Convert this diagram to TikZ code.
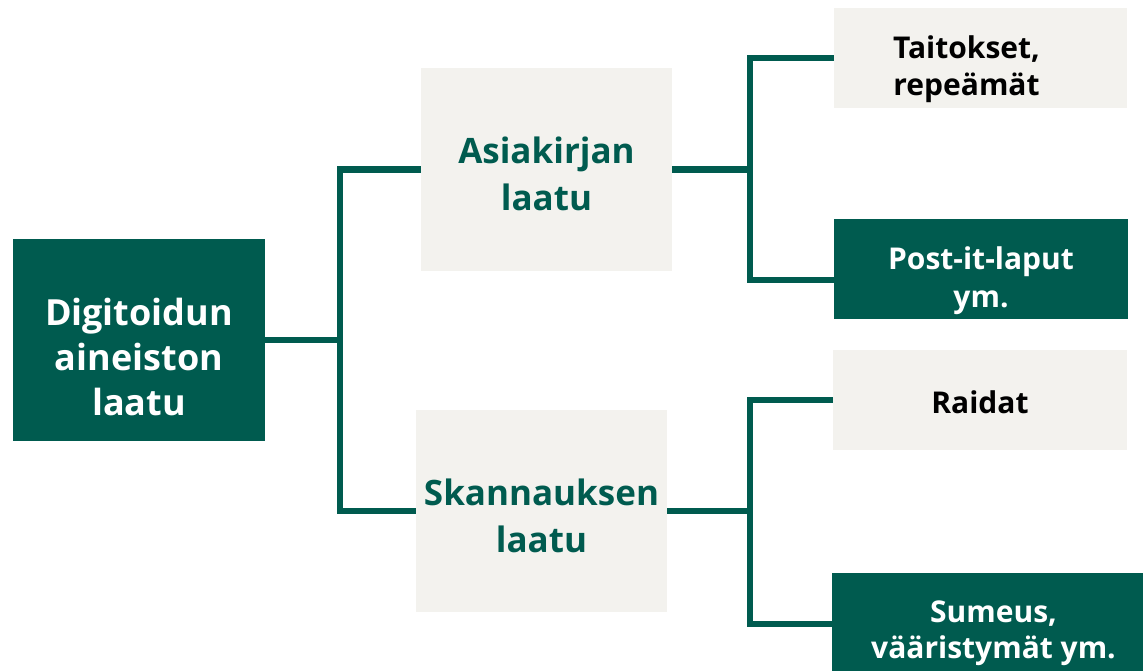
\documentclass[tikz,border=0pt]{standalone}
\usepackage{fontspec}
\setmainfont{Open Sans}
\usetikzlibrary{calc}
\definecolor{dgreen}{HTML}{005B4F}
\definecolor{lgray}{HTML}{F3F2EE}
\tikzset{
  darkbox/.style={fill=dgreen, text=white, inner sep=0pt},
  lightbox/.style={fill=lgray, inner sep=0pt},
  conn/.style={draw=dgreen, line width=6.5pt, line join=miter},
  rootfont/.style={font=\fontsize{36}{45}\selectfont\bfseries},
  big/.style={font=\fontsize{35}{46.5}\selectfont\bfseries},
  small/.style={font=\fontsize{30}{37.5}\selectfont\bfseries}
}
\begin{document}
\begin{tikzpicture}[x=1pt,y=-1pt]
\useasboundingbox (0,0) rectangle (1143,670);
\node[darkbox, rootfont, align=center, minimum width=252pt, minimum height=202pt, text height=150pt, text depth=0pt] (root) at (139,340) {Digitoidun\\aineiston\\laatu};
\node[lightbox, big, align=center, text=dgreen, minimum width=251pt, minimum height=203pt, text height=81pt, text depth=0pt] (asia) at (546.5,169.5) {Asiakirjan\\laatu};
\node[lightbox, big, align=center, text=dgreen, minimum width=251pt, minimum height=202pt, text height=82pt, text depth=0pt] (skann) at (541.5,511) {Skannauksen\\laatu};
\node[lightbox, small, text=black, minimum width=293pt, minimum height=100pt, text height=20pt, text depth=20pt] (taito) at (980.5,58) {\begin{tabular}[t]{@{}c@{}}Taitokset,\\repeämät\end{tabular}\hspace*{28pt}};
\node[darkbox, small, align=center, minimum width=294pt, minimum height=100pt, text height=76pt, text depth=0pt] (post) at (981,269) {Post-it-laput\\ym.};
\node[lightbox, small, text=black, minimum width=294pt, minimum height=100pt, text height=26pt, text depth=0pt] (raid) at (980,400) {Raidat};
\node[darkbox, small, minimum width=311pt, minimum height=99pt, text height=20pt, text depth=21pt] (sume) at (987.5,622.5) {\hspace*{12pt}\begin{tabular}[t]{@{}c@{}}Sumeus,\\[-1pt]vääristymät ym.\end{tabular}};
\coordinate (j1) at (340,340);
\coordinate (j2) at (750,169.5);
\coordinate (j3) at (750,511);
\draw[conn] (root.east) -- (j1);
\draw[conn] (asia.west) -| (j1) |- (skann.west);
\draw[conn] (asia.east) -- (j2);
\draw[conn] (taito.west) -| (j2) |- ($(post.south west)+(0,-39)$);
\draw[conn] (skann.east) -- (j3);
\draw[conn] (raid.west) -| (j3) |- ($(sume.west)+(0,1.5)$);
\end{tikzpicture}
\end{document}
